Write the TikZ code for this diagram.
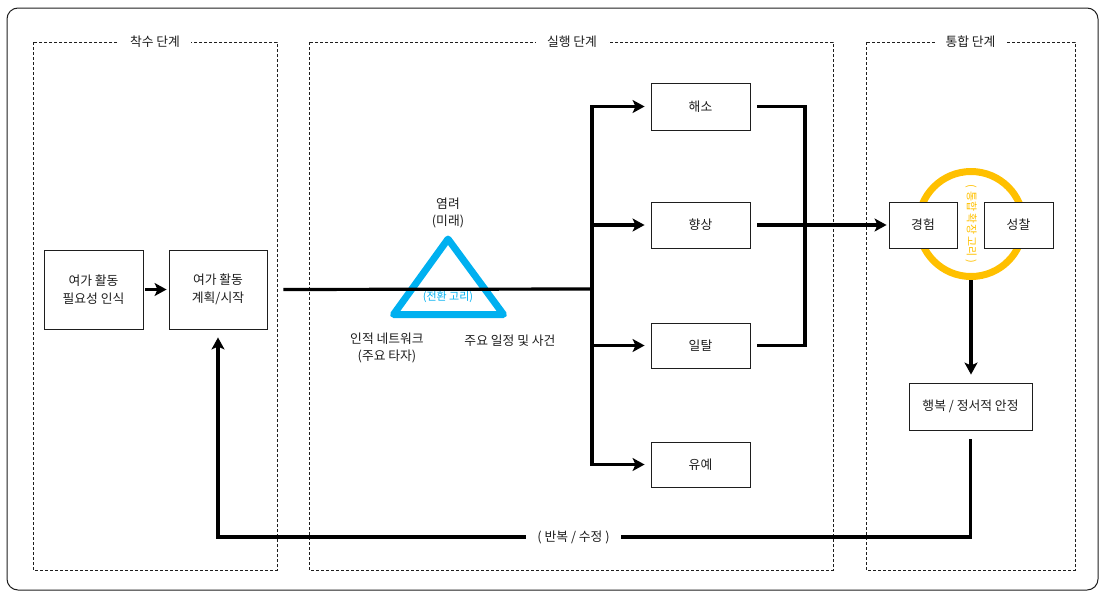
\documentclass[tikz,border=0pt]{standalone}
\usepackage{fontspec}
\setmainfont{Noto Sans CJK KR}
\usetikzlibrary{arrows.meta,positioning,calc}
\definecolor{ringblue}{RGB}{0,176,240}
\definecolor{ringgold}{RGB}{255,192,0}
\definecolor{inkgray}{RGB}{30,30,30}

\begin{document}
\begin{tikzpicture}[x=1pt,y=-1pt,>=Stealth,font=\fontsize{12.8}{17.5}\selectfont,
  box/.style={draw=inkgray,fill=white,line width=0.9pt,align=center,inner sep=0pt,text=inkgray},
  phase/.style={draw=inkgray,dash pattern=on 3pt off 2pt,line width=0.7pt},
  tag/.style={fill=white,inner xsep=11pt,inner ysep=2pt,text=inkgray},
  note/.style={align=center,text=inkgray},
  link/.style={line width=3.2pt},
  flow/.style={line width=3.2pt,-{Stealth[length=12pt,width=13pt,inset=3pt]}}]
  \useasboundingbox (0,0) rectangle (1102,592);
  \draw[inkgray,line width=1pt,rounded corners=11pt] (7,8) rectangle (1098,590);

  \draw[phase] (33,42) rectangle (277,570);
  \draw[phase] (309,42) rectangle (833,570);
  \draw[phase] (866,42) rectangle (1075,570);
  \node[tag] (start) at (155,42) {착수 단계};
  \node[tag] (run) at (572,42) {실행 단계};
  \node[tag] (merge) at (970.5,42) {통합 단계};

  \node[box,minimum width=99pt,minimum height=79pt] (need) at (93.5,289.5) {여가 활동\\필요성 인식};
  \node[box,minimum width=98pt,minimum height=79pt] (plan) at (218,289.5) {여가 활동\\계획/시작};
  \draw[flow,shorten <=2pt,shorten >=2pt] (need) -- (plan);

  \coordinate (worry) at (448,239);
  \coordinate (peer) at (393.5,314.5);
  \coordinate (event) at (503.5,314.5);
  \draw[ringblue,line width=7pt,line join=round] (worry) -- (peer) -- (event) -- cycle;
  \node[note] (worrytag) at (448,213) {염려\\(미래)};
  \node[note] (peertag) at (387,348) {인적 네트워크\\(주요 타자)};
  \node[note] (eventtag) at (510,341) {주요 일정 및 사건};
  \node[text=ringblue,font=\fontsize{11}{12}\selectfont] (turn) at (448,297) {(전환 고리)};

  \node[box,minimum width=99pt,minimum height=47pt] (resolve) at (700.5,106.5) {해소};
  \node[box,minimum width=99pt,minimum height=46pt] (improve) at (700.5,225) {향상};
  \node[box,minimum width=99pt,minimum height=45pt] (deviate) at (700.5,345.5) {일탈};
  \node[box,minimum width=99pt,minimum height=45pt] (defer) at (700.5,464.5) {유예};

  \coordinate (split) at (592,289);
  \coordinate (join) at (805,225);
  \draw[link,shorten <=16pt] (plan.east) -- (split);
  \draw[flow,shorten >=6pt] (split) |- (resolve.west);
  \draw[flow,shorten >=6pt] (split) |- (improve.west);
  \draw[flow,shorten >=6pt] (split) |- (deviate.west);
  \draw[flow,shorten >=6pt] (split) |- (defer.west);
  \draw[link,shorten <=7pt] (resolve.east) -| (join);
  \draw[link,shorten <=7pt] (deviate.east) -| (join);

  \node[circle,draw=ringgold,line width=7pt,minimum size=105pt,inner sep=0pt] (loop) at (971,224) {};
  \node[box,minimum width=68pt,minimum height=46pt] (exper) at (923,225) {경험};
  \node[box,minimum width=69pt,minimum height=46pt] (reflect) at (1018.5,225) {성찰};
  \node[rotate=-90,text=ringgold,font=\fontsize{11}{12}\selectfont] (looptag) at (loop) {( 통합 확장 고리 )};
  \draw[flow,shorten <=7pt,shorten >=2pt] (improve.east) -- (exper.west);

  \node[box,minimum width=123pt,minimum height=47pt] (happy) at (970.5,406.5) {행복 / 정서적 안정};
  \draw[flow,shorten >=8pt] (loop.south) -- (loop.south |- happy.north);

  \coordinate (back) at (573.5,537);
  \draw[flow,shorten <=9pt,shorten >=8pt] (happy.south) |- (back) -| (plan.south);
  \node[tag] (redo) at (back) {( 반복 / 수정 )};
\end{tikzpicture}
\end{document}
